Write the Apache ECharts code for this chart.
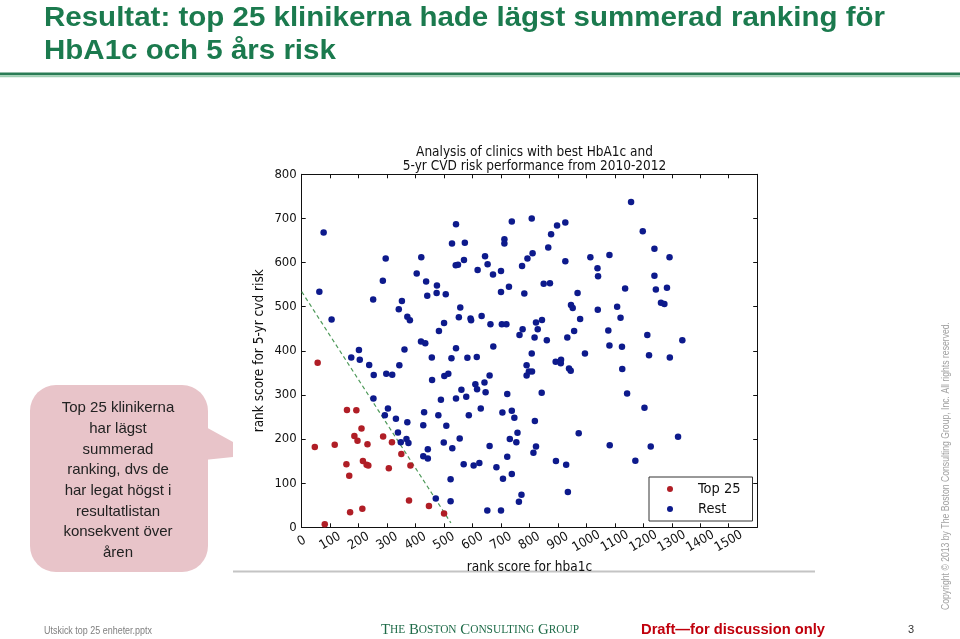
<!DOCTYPE html>
<html><head><meta charset="utf-8">
<script src="https://cdn.jsdelivr.net/npm/echarts@6/dist/echarts.min.js"></script>
<style>html,body{margin:0;padding:0;background:#fff}#c{width:960px;height:639px}</style>
</head><body><div id="c"></div>
<script>
// ---------- data ----------
const slideTitle = ['Resultat: top 25 klinikerna hade lägst summerad ranking för', 'HbA1c och 5 års risk'];
const chartTitle = 'Analysis of clinics with best HbA1c and\n5-yr CVD risk performance from 2010-2012';
const xName = 'rank score for hba1c';
const yName = 'rank score for 5-yr cvd risk';
const seriesNames = ['Top 25', 'Rest'];
const top25 = [[56,373],[46,182],[116,187],[159,266],[192,265],[210,224],[185,207],[196,196],[231,188],[157,143],[215,150],[228,142],[234,140],[167,117],[286,206],[317,193],[306,134],[350,166],[382,140],[377,61],[447,48],[500,31],[170,34],[213,42],[81,7]];
const restA = [[62,534],[77,668],[105,471],[251,516],[285,559],[295,609],[341,494],[352,513],[371,477],[380,469],[404,575],[420,612],[437,557],[441,525],[475,548],[474,531],[506,528],[482,445],[500,463],[528,643],[542,687],[541,594],[549,595],[557,498],[552,476],[573,645],[570,606],[593,473],[595,469],[618,583],[632,479],[644,614],[653,596],[663,460],[672,573],[700,581],[700,533],[703,460],[712,653],[712,643],[719,460],[728,545],[738,693],[765,436],[774,592],[776,449],[782,530],[793,609],[419,421],[434,417]];
const restB = [[808,700],[811,621],[876,664],[897,684],[926,691],[866,634],[926,603],[850,552],[872,553],[946,504],[952,497],[969,531],[978,472],[823,464],[844,470],[829,449],[818,430],[861,424],[933,430],[957,445],[1014,612],[1039,587],[1041,569],[1040,493],[1081,617],[1136,541],[1108,500],[1120,475],[1077,446],[1081,412],[1125,409],[1157,737],[1198,671],[1239,631],[1292,612],[1239,570],[1244,539],[1283,543],[1262,509],[1274,506],[1214,436],[1337,424]];
const restC = [[174,385],[201,402],[204,380],[237,368],[253,345],[252,292],[297,348],[318,346],[343,367],[361,403],[292,254],[303,269],[331,246],[371,238],[338,215],[368,200],[375,191],[348,193],[427,231],[430,261],[443,177],[427,161],[443,156],[457,385],[458,334],[501,343],[515,348],[489,289],[480,254],[508,230],[499,192],[529,179],[526,383],[542,406],[555,201],[561,312],[578,296],[582,384],[587,254],[542,292],[569,143],[604,140],[615,386],[610,324],[616,313],[629,269],[624,146],[642,328],[646,306],[660,344],[660,184],[673,410],[684,136],[705,260],[722,302],[722,160],[731,200],[738,264],[738,121],[747,248],[758,214],[754,193],[707,110],[652,38],[700,38],[772,74],[763,58],[523,109],[523,59],[471,65]];
const restD = [[808,394],[790,367],[790,344],[798,353],[809,353],[843,305],[819,241],[823,183],[814,169],[893,150],[929,142],[935,80],[892,375],[911,380],[910,372],[939,360],[945,355],[995,394],[973,213],[1126,359],[1143,303],[1082,186],[1172,151],[1204,271],[1220,390],[1293,385],[1226,183],[1322,205]];
const rest = restA.concat(restB, restC, restD);
const guideLine = [[0,534],[524,10]];
const calloutLines = ['Top 25 klinikerna','har lägst','summerad','ranking, dvs de','har legat högst i','resultatlistan','konsekvent över','åren'];
const footerFile = 'Utskick top 25 enheter.pptx';
const draftText = 'Draft\u2014for discussion only';
const pageNo = '3';
const copyright = 'Copyright \u00A9 2013 by The Boston Consulting Group, Inc. All rights reserved.';

// ---------- helpers ----------
const CF = "'DejaVu Sans Condensed','DejaVu Sans',sans-serif";
const SF = "'Liberation Sans',Arial,sans-serif";
const ctx = document.createElement('canvas').getContext('2d');
function w(text, font){ ctx.font = font; return ctx.measureText(text).width; }

const titleFont = 'bold 27px "Liberation Sans"';
const titleScale = 841 / w(slideTitle[0], titleFont);
const fileScale = 108 / w(footerFile, '10px "Liberation Sans"');
const draftScale = 184 / w(draftText, 'bold 15px "Liberation Sans"');
const copyScale = 288 / w(copyright, '10px "Liberation Sans"');
const bcgParts = [['T','HE'],['B','OSTON'],['C','ONSULTING'],['G','ROUP']];
let bcgW = 0;
bcgParts.forEach((p,i)=>{ bcgW += w(p[0],'15px "Liberation Serif"') + w(p[1],'11.5px "Liberation Serif"') + (i<3 ? w(' ','15px "Liberation Serif"') : 0); });
const bcgScale = 198 / bcgW;
const bcgText = bcgParts.map(p => '{b|' + p[0] + '}{s|' + p[1] + '}').join('{b| }');

const chart = echarts.init(document.getElementById('c'), null, {renderer:'canvas'});
const axisCommon = {
  type:'value', splitLine:{show:false},
  axisLine:{show:true, onZero:false, lineStyle:{color:'#111', width:1}},
  axisTick:{show:true, inside:true, length:4, lineStyle:{color:'#111'}}
};
chart.setOption({
  animation:false,
  backgroundColor:'#ffffff',
  title:{text:chartTitle, left:529.5, top:141, textAlign:'center',
    textStyle:{fontSize:13.5, fontWeight:'normal', color:'#111', fontFamily:CF, lineHeight:13.5}},
  grid:{left:301.7, top:174.3, width:455.5, height:353},
  legend:{data:seriesNames, orient:'vertical', left:649, top:477, padding:[4,12,4,18],
    itemGap:4, itemWidth:6, itemHeight:6, icon:'circle', borderColor:'#333', borderWidth:1,
    textStyle:{fontSize:14.5, fontFamily:CF, color:'#111', lineHeight:16, padding:[0,0,0,20]}},
  xAxis:[
    Object.assign({}, axisCommon, {min:0, max:1600, interval:100, position:'bottom',
      axisLabel:{rotate:30, showMaxLabel:false, align:'center', verticalAlign:'middle', margin:14, fontSize:13, color:'#111', fontFamily:CF,
        formatter:function(v){ return String(v); }},
      name:xName, nameLocation:'middle', nameGap:31, nameTextStyle:{fontSize:13.5, color:'#111', fontFamily:CF}}),
    Object.assign({}, axisCommon, {min:0, max:1600, interval:100, position:'top', axisLabel:{show:false}})
  ],
  yAxis:[
    Object.assign({}, axisCommon, {min:0, max:800, interval:100, position:'left',
      axisLabel:{margin:5, fontSize:13, color:'#111', fontFamily:CF},
      name:yName, nameLocation:'middle', nameGap:35, nameTextStyle:{fontSize:13.5, color:'#111', fontFamily:CF}}),
    Object.assign({}, axisCommon, {min:0, max:800, interval:100, position:'right', axisLabel:{show:false}})
  ],
  series:[
    {name:'guide', type:'line', data:guideLine, symbol:'none', silent:true, z:1,
      lineStyle:{type:[4,3], color:'#4f9a5a', width:1.2}},
    {name:'Rest', type:'scatter', data:rest, symbolSize:6.5, itemStyle:{color:'#0d1a8c', opacity:1}, z:3},
    {name:'Top 25', type:'scatter', data:top25, symbolSize:6.5, itemStyle:{color:'#b01e26', opacity:1}, z:3}
  ],
  graphic:[
    {type:'text', x:44, y:19, scaleX:titleScale, style:{text:slideTitle[0], font:titleFont, fill:'#1b7a4e', align:'left', verticalAlign:'middle'}},
    {type:'text', x:44, y:52, scaleX:titleScale, style:{text:slideTitle[1], font:titleFont, fill:'#1b7a4e', align:'left', verticalAlign:'middle'}},
    {type:'rect', shape:{x:0, y:72.5, width:960, height:2.8}, style:{fill:'#2a7c55'}},
    {type:'rect', shape:{x:0, y:75.3, width:960, height:2}, style:{fill:'#9fcfb3'}},
    {type:'rect', shape:{x:233, y:570.5, width:582, height:2}, style:{fill:'#c4c4c4'}},
    {type:'polygon', shape:{points:[[204,426],[233,442],[233,457],[204,460]]}, style:{fill:'#e8c4c9'}},
    {type:'rect', shape:{x:30, y:385, width:178, height:187, r:26}, style:{fill:'#e8c4c9'}},
    {type:'text', x:118, y:397.7, style:{text:calloutLines.join('\n'), fontSize:15, fontFamily:SF, fill:'#222', align:'center', verticalAlign:'top', lineHeight:20.7}},
    {type:'text', x:44, y:631, scaleX:fileScale, style:{text:footerFile, fontSize:10, fontFamily:SF, fill:'#808080', align:'left', verticalAlign:'middle'}},
    {type:'text', x:381, y:630, scaleX:bcgScale, style:{text:bcgText, align:'left', verticalAlign:'middle', fill:'#1e6b48',
      rich:{b:{fontSize:15, fontFamily:'"Liberation Serif",serif', fill:'#1e6b48'}, s:{fontSize:11.5, fontFamily:'"Liberation Serif",serif', fill:'#1e6b48'}}}},
    {type:'text', x:641, y:630, scaleX:draftScale, style:{text:draftText, font:'bold 15px "Liberation Sans"', fill:'#c0000c', align:'left', verticalAlign:'middle'}},
    {type:'text', x:911, y:630, style:{text:pageNo, fontSize:11, fontFamily:SF, fill:'#333', align:'center', verticalAlign:'middle'}},
    {type:'text', x:946, y:466, rotation:Math.PI/2, scaleX:copyScale, style:{text:copyright, fontSize:10, fontFamily:SF, fill:'#a0a0a0', align:'center', verticalAlign:'middle'}}
  ]
});
</script></body></html>
